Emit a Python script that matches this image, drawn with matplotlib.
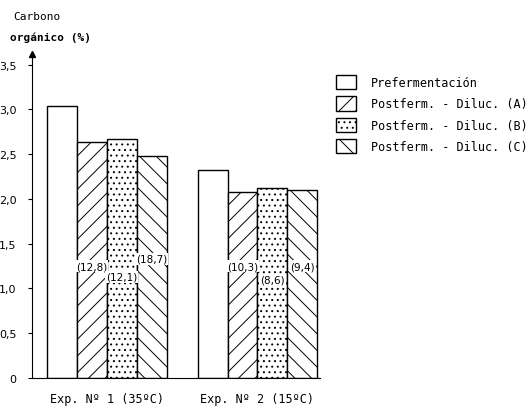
import numpy as np
import matplotlib
matplotlib.use("Agg")
import matplotlib.pyplot as plt
from matplotlib.patches import Patch

plt.rcParams['hatch.linewidth'] = 0.7

groups = ['Exp. Nº 1 (35ºC)', 'Exp. Nº 2 (15ºC)']
series = ['Prefermentación', 'Postferm. - Diluc. (A)',
          'Postferm. - Diluc. (B)', 'Postferm. - Diluc. (C)']
pre = [3.04, 2.32]
dil_a = [2.64, 2.08]
dil_b = [2.67, 2.12]
dil_c = [2.48, 2.10]
reduction = [[None, None],
             ['(12,8)', '(10,3)'],
             ['(12,1)', '(8,6)'],
             ['(18,7)', '(9,4)']]
label_y = [[None, None], [1.25, 1.25], [1.13, 1.10], [1.33, 1.25]]
yticks = [0, 0.5, 1.0, 1.5, 2.0, 2.5, 3.0, 3.5]
yticklabels = ['0', '0,5', '1,0', '1,5', '2,0', '2,5', '3,0', '3,5']

hatches = ['', '//', '...', '\\\\']
values = [pre, dil_a, dil_b, dil_c]
centers = np.array([2.5, 7.54])
width = 1.0

fig = plt.figure(figsize=(5.32, 4.10), dpi=100)
ax = fig.add_axes([32 / 532, 31 / 410, 288 / 532, 324 / 410])

for i, vals in enumerate(values):
    xs = centers + (i - 1.5) * width
    ax.bar(xs, vals, width=width, color='white', edgecolor='black',
           linewidth=1.0, hatch=hatches[i], zorder=2)
    for j in range(len(xs)):
        if reduction[i][j]:
            ax.text(xs[j], label_y[i][j], reduction[i][j], ha='center', va='center',
                    fontsize=7.5, family='DejaVu Sans', zorder=4,
                    bbox=dict(facecolor='white', edgecolor='none', pad=0.6))

ax.set_xlim(0, 9.63)
ax.set_ylim(0, 3.62)
ax.spines['top'].set_visible(False)
ax.spines['right'].set_visible(False)
ax.plot(0, 1, '^k', markersize=4, transform=ax.transAxes, clip_on=False)

ax.set_yticks(yticks)
ax.set_yticklabels(yticklabels)
ax.tick_params(axis='y', length=3, pad=8, labelsize=8)
ax.set_xticks(centers)
ax.set_xticklabels(groups, family='DejaVu Sans Mono', fontsize=8.5)
ax.tick_params(axis='x', length=0, pad=10)

fig.text(13 / 532, 1 - 17 / 410, 'Carbono', family='DejaVu Sans Mono',
         fontsize=8, va='center', ha='left')
fig.text(10 / 532, 1 - 38 / 410, 'orgánico (%)', family='DejaVu Sans Mono',
         fontsize=8, va='center', ha='left', weight='bold')

handles = [Patch(facecolor='white', edgecolor='black', hatch=h) for h in hatches]
fig.legend(handles, series, loc='upper left', bbox_to_anchor=(325 / 532, 1 - 65 / 410),
           frameon=False, prop={'family': 'DejaVu Sans Mono', 'size': 8.5},
           handlelength=1.7, handleheight=1.5, labelspacing=0.6, handletextpad=1.3)

fig.savefig('out.png', dpi=100)
